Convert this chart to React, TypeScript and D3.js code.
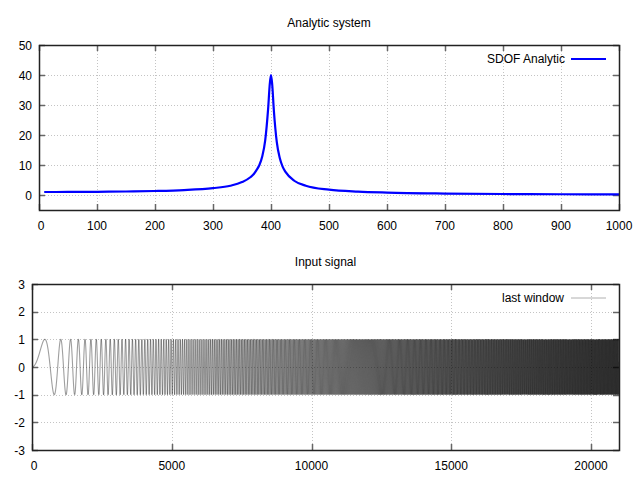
import { useRef, useEffect } from "react";
import * as d3 from "d3";

// analytic SDOF response
const freqX = [9, 50, 100, 150, 200, 250, 300, 330, 350, 365, 370, 375, 380, 385, 390, 395, 398, 400, 402, 405, 410, 415, 420, 425, 440, 460, 500, 550, 600, 700, 800, 900, 1000];
const ampY = [1.0, 1.02, 1.07, 1.16, 1.33, 1.64, 2.29, 3.1, 4.3, 6.0, 6.9, 8.3, 10.0, 12.9, 18.2, 28.6, 37.2, 40.0, 37.0, 28.0, 17.6, 12.4, 9.45, 7.7, 4.75, 3.1, 1.78, 1.12, 0.8, 0.49, 0.33, 0.25, 0.19];

const topXTicks = [0, 100, 200, 300, 400, 500, 600, 700, 800, 900, 1000];
const topYTicks = [0, 10, 20, 30, 40, 50];
const botXTicks = [0, 5000, 10000, 15000, 20000];
const botYTicks = [-3, -2, -1, 0, 1, 2, 3];

// input chirp as seen in the lower panel: length and first crest position
const chirpLength = [21000];
const chirpFirstPeak = [460];

const FONT = "'Liberation Sans', Arial, sans-serif";

interface Panel {
  left: number; right: number; top: number; bottom: number;
  x: d3.ScaleLinear<number, number>; y: d3.ScaleLinear<number, number>;
}

function drawFrame(g: d3.Selection<SVGGElement, unknown, null, undefined>, p: Panel, xt: number[], yt: number[], title: string) {
  const grid = g.append("g").attr("stroke", "#c4c4c4").attr("stroke-dasharray", "1,2").attr("stroke-width", 1);
  xt.forEach((v) => {
    const px = Math.round(p.x(v)) + 0.5;
    if (px > p.left + 1 && px < p.right - 1)
      grid.append("line").attr("x1", px).attr("x2", px).attr("y1", p.top).attr("y2", p.bottom);
  });
  yt.forEach((v) => {
    const py = Math.round(p.y(v)) + 0.5;
    if (py > p.top + 1 && py < p.bottom - 1)
      grid.append("line").attr("x1", p.left).attr("x2", p.right).attr("y1", py).attr("y2", py);
  });

  const ticks = g.append("g").attr("stroke", "#666").attr("stroke-width", 1.5);
  const tl = 6;
  xt.forEach((v) => {
    const px = Math.round(p.x(v)) + 0.5;
    ticks.append("line").attr("x1", px).attr("x2", px).attr("y1", p.bottom).attr("y2", p.bottom - tl);
    ticks.append("line").attr("x1", px).attr("x2", px).attr("y1", p.top).attr("y2", p.top + tl);
    g.append("text").attr("x", p.x(v) + (v === 0 ? 2 : 0)).attr("y", p.bottom + 20).attr("text-anchor", "middle")
      .attr("font-family", FONT).attr("font-size", 12).attr("fill", "#000").text(String(v));
  });
  yt.forEach((v) => {
    const py = Math.round(p.y(v)) + 0.5;
    ticks.append("line").attr("x1", p.left).attr("x2", p.left + tl).attr("y1", py).attr("y2", py);
    ticks.append("line").attr("x1", p.right).attr("x2", p.right - tl).attr("y1", py).attr("y2", py);
    g.append("text").attr("x", p.left - 7).attr("y", p.y(v) + 4.5).attr("text-anchor", "end")
      .attr("font-family", FONT).attr("font-size", 12).attr("fill", "#000").text(String(v));
  });

  g.append("text").attr("x", (p.left + p.right) / 2).attr("y", p.top - 18).attr("text-anchor", "middle")
    .attr("font-family", FONT).attr("font-size", 12).attr("fill", "#000").text(title);
}

function drawBorder(g: d3.Selection<SVGGElement, unknown, null, undefined>, p: Panel) {
  g.append("rect").attr("x", p.left + 0.5).attr("y", p.top + 0.5)
    .attr("width", p.right - p.left).attr("height", p.bottom - p.top)
    .attr("fill", "none").attr("stroke", "#222").attr("stroke-width", 1.5);
}

export default function App() {
  const svgRef = useRef<SVGSVGElement>(null);

  useEffect(() => {
    if (!svgRef.current) return;
    const svg = d3.select(svgRef.current);
    svg.selectAll("*").remove();

    // ---------- upper panel ----------
    const top: Panel = {
      left: 39, right: 619, top: 45, bottom: 210,
      x: d3.scaleLinear().domain([0, 1000]).range([39, 619]),
      y: d3.scaleLinear().domain([-5, 50]).range([210, 45]),
    };
    const g1 = svg.append("g");
    drawFrame(g1, top, topXTicks, topYTicks, "Analytic system");

    const line1 = d3.line<number>()
      .x((_, i) => top.x(freqX[i]))
      .y((d) => top.y(d))
      .curve(d3.curveMonotoneX);
    g1.append("path").attr("d", line1(ampY) ?? "").attr("fill", "none")
      .attr("stroke", "#0000ff").attr("stroke-width", 2.2).attr("stroke-linejoin", "round");

    g1.append("text").attr("x", 565).attr("y", 63).attr("text-anchor", "end")
      .attr("font-family", FONT).attr("font-size", 12).attr("fill", "#000").text("SDOF Analytic");
    g1.append("line").attr("x1", 571).attr("x2", 606).attr("y1", 59).attr("y2", 59)
      .attr("stroke", "#0000ff").attr("stroke-width", 2.2);
    drawBorder(g1, top);

    // ---------- lower panel ----------
    const n = chirpLength[0];
    const bot: Panel = {
      left: 32, right: 619, top: 284, bottom: 450,
      x: d3.scaleLinear().domain([0, n]).range([32, 619]),
      y: d3.scaleLinear().domain([-3, 3]).range([450, 284]),
    };
    const g2 = svg.append("g");
    drawFrame(g2, bot, botXTicks, botYTicks, "Input signal");

    const a = chirpFirstPeak[0];
    const samples = d3.range(n + 1).map((t) => Math.sin((Math.PI / 2) * (t / a) * (t / a)));

    // split into monotone strokes so overlapping edges build up density
    const chunks: [number, number][][] = [];
    let cur: [number, number][] = [[bot.x(0), bot.y(samples[0])]];
    let dir = 0;
    for (let t = 1; t <= n; t++) {
      const d = Math.sign(samples[t] - samples[t - 1]);
      const pt: [number, number] = [bot.x(t), bot.y(samples[t])];
      if (dir !== 0 && d !== 0 && d !== dir) {
        chunks.push(cur);
        cur = [cur[cur.length - 1]];
      }
      if (d !== 0) dir = d;
      cur.push(pt);
    }
    chunks.push(cur);

    const line2 = d3.line<[number, number]>();
    g2.append("g").attr("fill", "none").attr("stroke", "#000").attr("stroke-opacity", 0.38)
      .attr("stroke-width", 1.1)
      .selectAll("path").data(chunks).join("path").attr("d", (c) => line2(c) ?? "");

    g2.append("text").attr("x", 564).attr("y", 302).attr("text-anchor", "end")
      .attr("font-family", FONT).attr("font-size", 12).attr("fill", "#000").text("last window");
    g2.append("line").attr("x1", 571).attr("x2", 606).attr("y1", 298).attr("y2", 298)
      .attr("stroke", "#b0b0b0").attr("stroke-width", 1);
    drawBorder(g2, bot);
  }, []);

  return (
    <svg ref={svgRef} width={640} height={480}
      style={{ position: "absolute", left: 0, top: 0, background: "#fff" }} />
  );
}
